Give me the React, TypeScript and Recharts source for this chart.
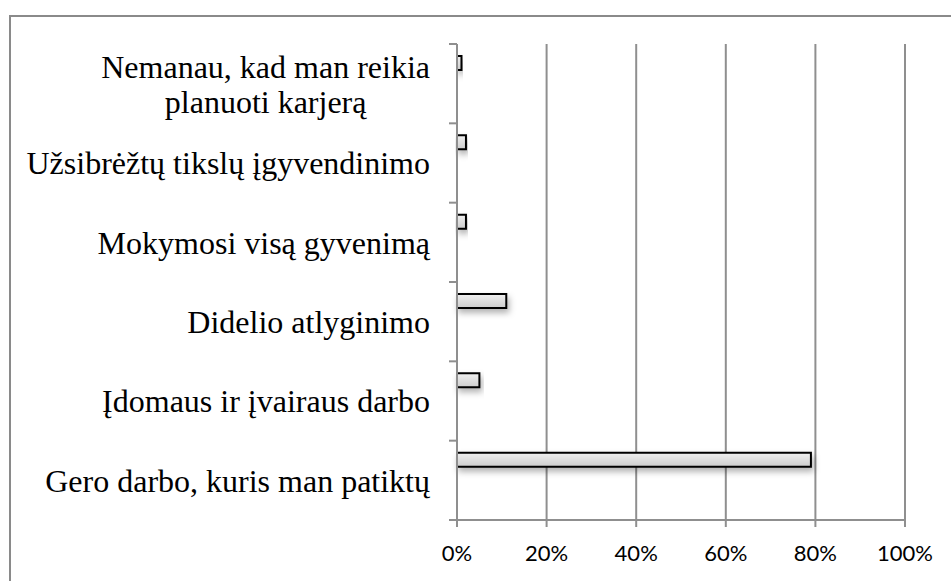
import { BarChart, Bar, XAxis, YAxis, CartesianGrid } from "recharts";

// categories listed top to bottom as they appear in the chart
const categories = [
  "Nemanau, kad man reikia planuoti karjerą",
  "Užsibrėžtų tikslų įgyvendinimo",
  "Mokymosi visą gyvenimą",
  "Didelio atlyginimo",
  "Įdomaus ir įvairaus darbo",
  "Gero darbo, kuris man patiktų",
];
const shares = [0.01, 0.02, 0.02, 0.11, 0.05, 0.79];
const xTicks = [0, 0.2, 0.4, 0.6, 0.8, 1];

const data = categories.map((name, i) => ({ name, value: shares[i] }));

const LABEL_FONT = '32px "Liberation Serif"';
const GRID = "#8f8f8f";

let ctx: CanvasRenderingContext2D | null = null;
function measure(text: string) {
  if (!ctx) {
    ctx = document.createElement("canvas").getContext("2d");
  }
  if (!ctx) return text.length * 14;
  ctx.font = LABEL_FONT;
  return ctx.measureText(text).width;
}

// greedy word wrap, the way the spreadsheet wraps long axis labels
function wrapLabel(text: string, maxWidth = 425) {
  const words = text.split(" ");
  const lines: string[] = [];
  let cur = "";
  words.forEach((w) => {
    const next = cur ? cur + " " + w : w;
    if (cur && measure(next) > maxWidth) {
      lines.push(cur);
      cur = w;
    } else {
      cur = next;
    }
  });
  if (cur) lines.push(cur);
  return lines;
}

const CategoryTick = (props: any) => {
  const { x, y, payload, index } = props;
  const half = payload.offset ?? 0;
  const lines = wrapLabel(String(payload.value));
  const lineH = 35;
  const blockW = Math.max(...lines.map(measure));
  const multi = lines.length > 1;
  return (
    <g>
      {/* tick marks sit on the band boundaries, not the band centers */}
      <line x1={x + 19} x2={x + 27} y1={y - half} y2={y - half} stroke={GRID} strokeWidth={2} />
      {index === categories.length - 1 && (
        <line x1={x + 19} x2={x + 27} y1={y + half} y2={y + half} stroke={GRID} strokeWidth={2} />
      )}
      <text
        x={multi ? x - blockW / 2 : x}
        y={y}
        textAnchor={multi ? "middle" : "end"}
        fontFamily='"Liberation Serif", "Times New Roman", serif'
        fontSize={32}
        fill="#000"
      >
        {lines.map((l, i) => (
          <tspan
            key={i}
            x={multi ? x - blockW / 2 : x}
            y={y - ((lines.length - 1) * lineH) / 2 + i * lineH}
            dy="0.355em"
          >
            {l}
          </tspan>
        ))}
      </text>
    </g>
  );
};

export default function App() {
  return (
    <div style={{ position: "fixed", left: 0, top: 0, width: 951, height: 581, background: "#fff", overflow: "hidden" }}>
      {/* chart frame: only its top and left edges fall inside the picture */}
      <svg width={951} height={581} style={{ position: "absolute", left: 0, top: 0 }}>
        <polyline points="10,581 10,16 951,16" fill="none" stroke="#8a8a8a" strokeWidth={2} />
      </svg>
      <div style={{ position: "absolute", left: 0, top: 0 }}>
        <BarChart
          width={951}
          height={581}
          data={data}
          layout="vertical"
          margin={{ top: 44, right: 46, bottom: 0, left: 0 }}
          barCategoryGap={12}
          barGap={27}
        >
          <defs>
            <linearGradient id="barFill" x1="0" y1="0" x2="0" y2="1">
              <stop offset="0%" stopColor="#f0f0f0" />
              <stop offset="100%" stopColor="#cdcdcd" />
            </linearGradient>
            <filter id="barShadow" x="-20%" y="-50%" width="140%" height="250%">
              <feDropShadow dx="2" dy="4" stdDeviation="3" floodColor="#000" floodOpacity="0.3" />
            </filter>
          </defs>
          <CartesianGrid horizontal={false} stroke={GRID} strokeWidth={2} />
          <XAxis
            type="number"
            domain={[0, 1]}
            ticks={xTicks}
            interval={0}
            tickFormatter={(v) => `${Math.round(v * 100)}%`}
            height={61}
            axisLine={{ stroke: GRID, strokeWidth: 2 }}
            tickLine={{ stroke: GRID, strokeWidth: 2 }}
            tickSize={7}
            tickMargin={18}
            tick={{ fill: "#000", fontSize: 22, fontFamily: "Lato, 'Open Sans', sans-serif" }}
          />
          <YAxis
            type="category"
            dataKey="name"
            width={457}
            axisLine={{ stroke: GRID, strokeWidth: 2 }}
            tickLine={false}
            tickSize={8}
            tickMargin={19}
            interval={0}
            tick={<CategoryTick />}
          />
          <Bar
            dataKey="value"
            fill="url(#barFill)"
            stroke="#000"
            strokeWidth={2}
            filter="url(#barShadow)"
            isAnimationActive={false}
          />
          {/* second, empty series: keeps each bar in the upper half of its band */}
          <Bar dataKey="none" fill="none" isAnimationActive={false} />
        </BarChart>
      </div>
    </div>
  );
}
